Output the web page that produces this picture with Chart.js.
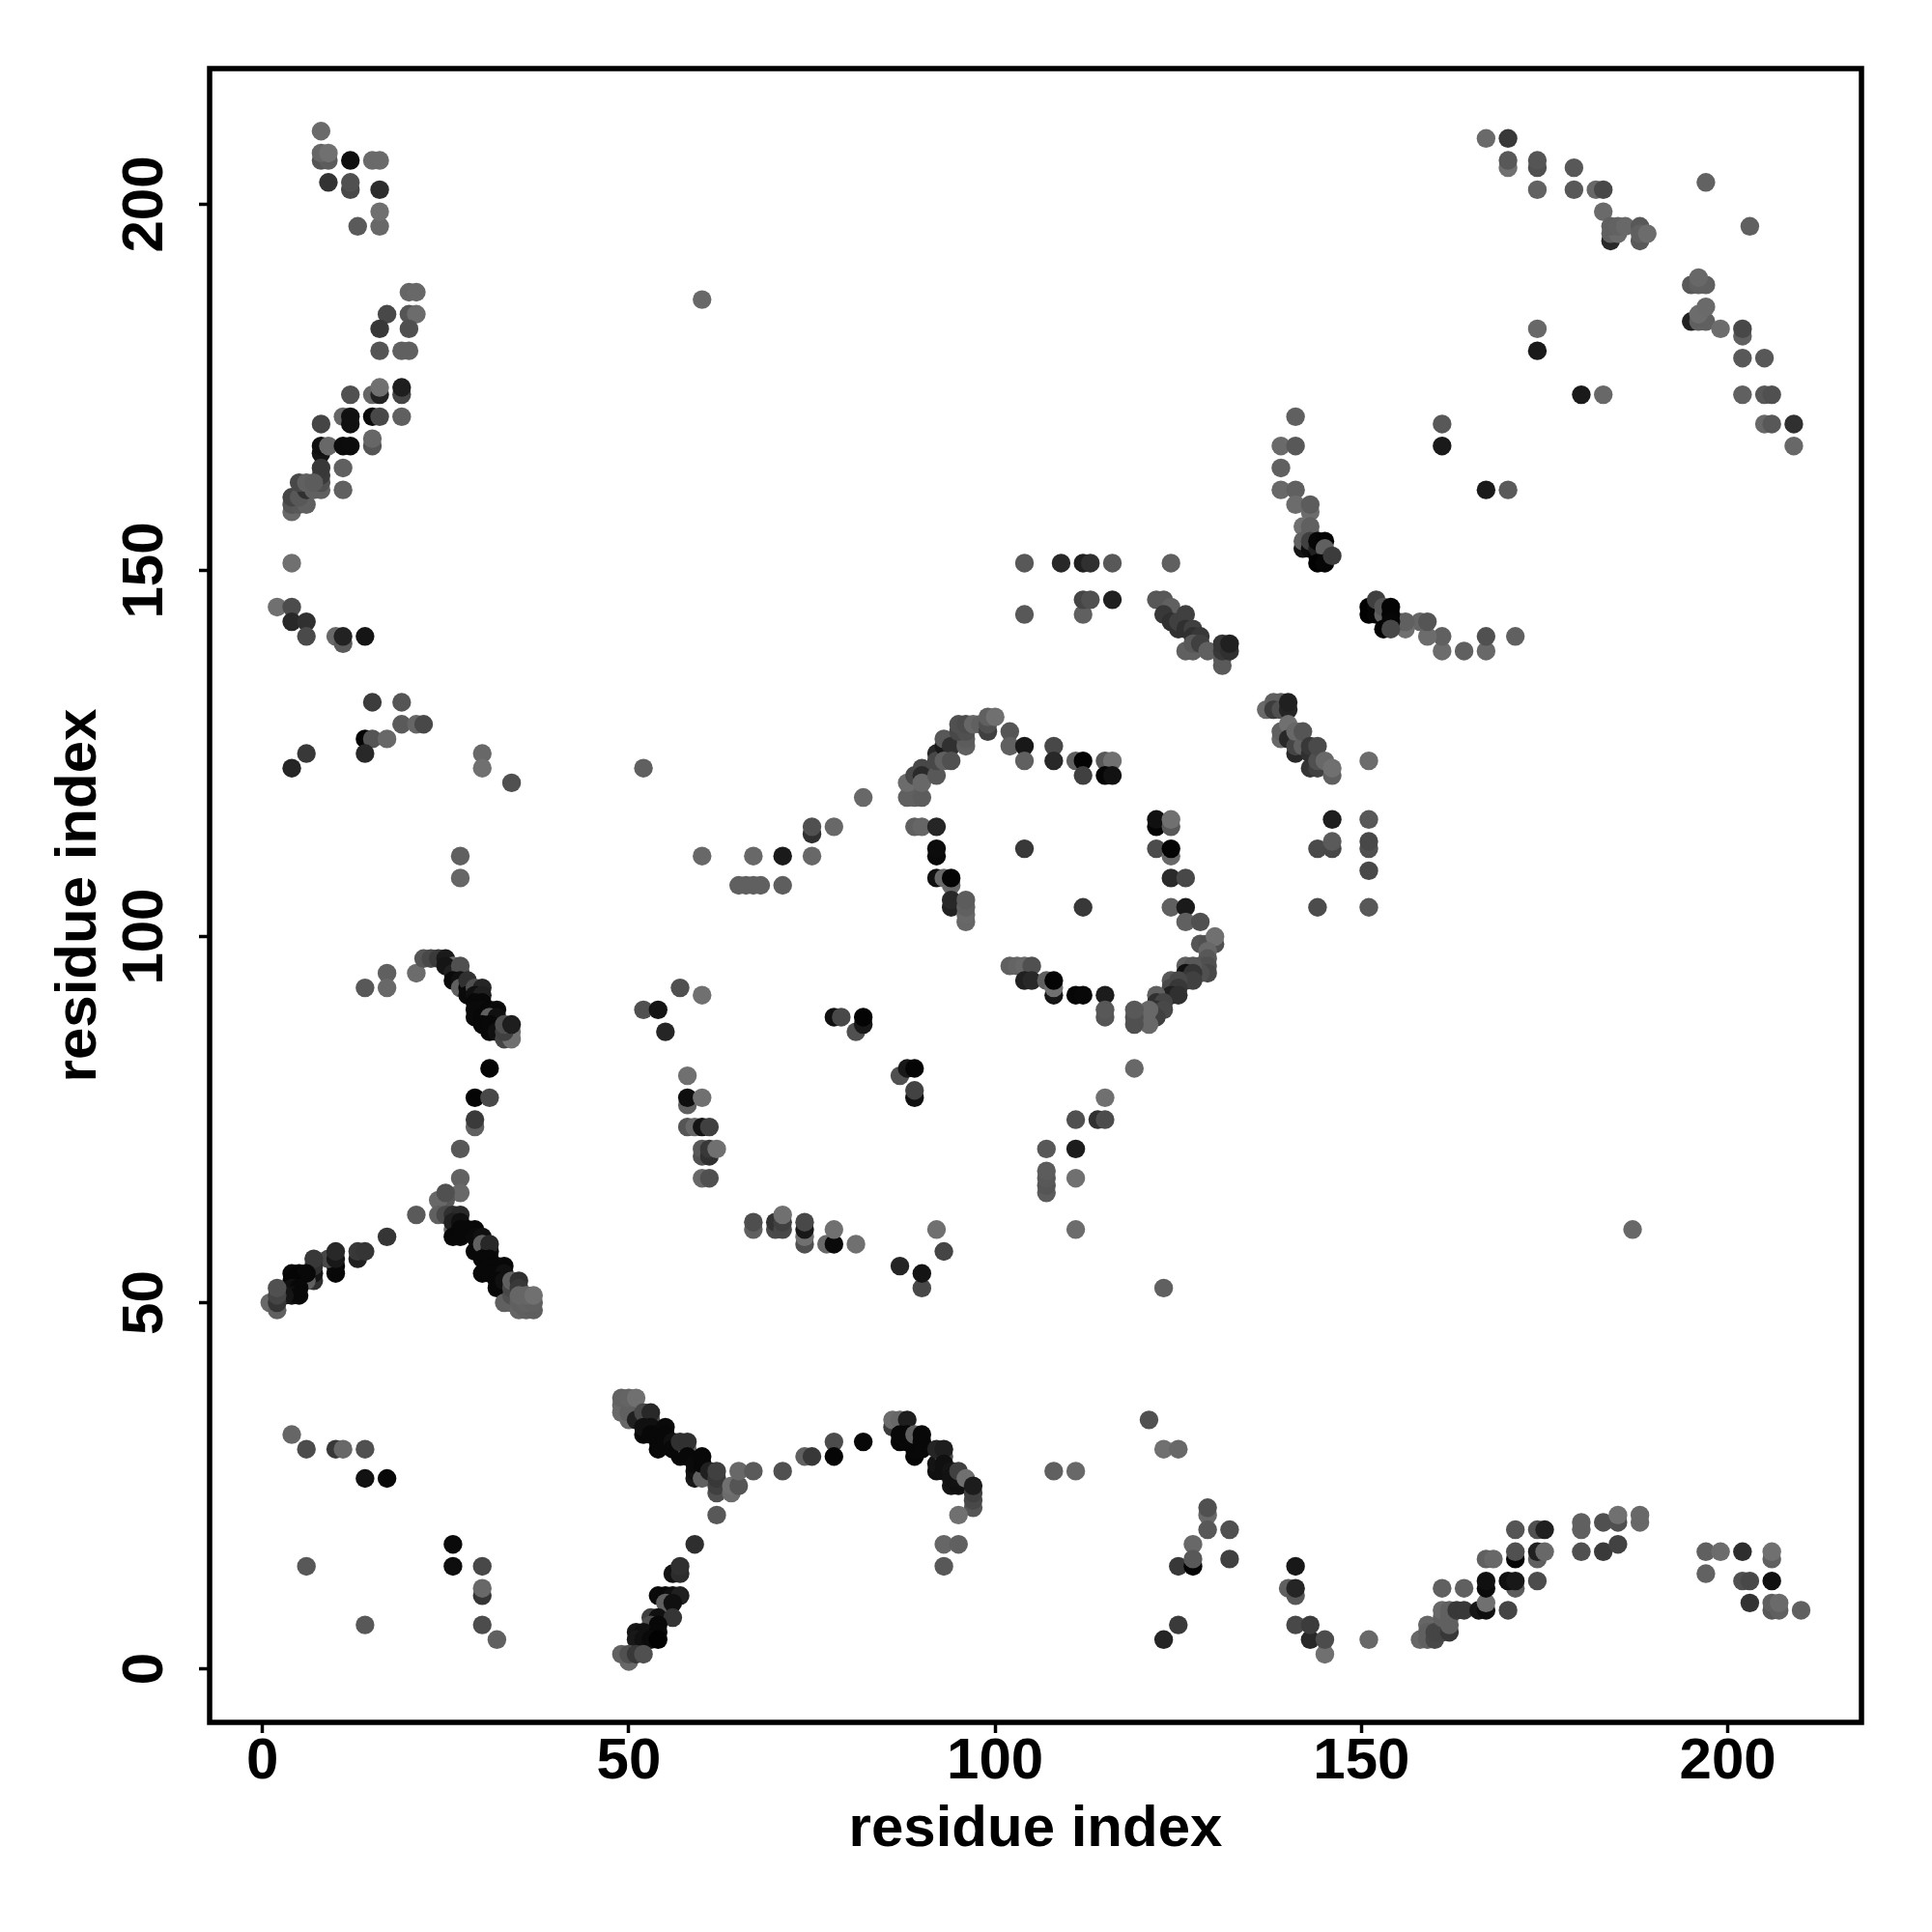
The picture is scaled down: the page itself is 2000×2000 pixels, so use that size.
<!DOCTYPE html>
<html><head><meta charset="utf-8">
<style>html,body{margin:0;padding:0;background:#fff}canvas{display:block}</style>
<script src="https://cdn.jsdelivr.net/npm/chart.js@4"></script>
</head><body><canvas id="c" width="2000" height="2000"></canvas>
<script>
// each contact: [residue i, residue j, grey level]
const axisTicks=[0,50,100,150,200];
const axisTitle="residue index";
const topLeftContacts=[[8,210,0x6a],[8,206,0x55],[9,206,0x5c],[8,207,0x66],[9,207,0x70],[12,206,0x10],[15,206,0x6a],[16,206,0x6a],[9,203,0x33],[12,202,0x48],[12,203,0x50],[16,202,0x2d],[16,197,0x68],[16,199,0x70],[13,197,0x5a],
[20,188,0x66],[21,188,0x68],[17,185,0x48],[20,185,0x55],[21,185,0x6c],[16,183,0x38],[20,183,0x50],[16,180,0x55],[19,180,0x60],[20,180,0x60],[12,174,0x50],[15,174,0x66],[16,174,0x22],[16,175,0x70],[19,174,0x45],[19,175,0x1e],[19,171,0x60],[15,171,0x0a],[16,171,0x48],[11,171,0x66],[12,170,0x10],[12,171,0x10],[8,170,0x45],
[8,166,0x15],[8,167,0x10],[9,167,0x68],[11,167,0x0c],[12,167,0x0c],[15,167,0x55],[15,168,0x66],[11,164,0x60],[11,161,0x60],
[4,158,0x68],[4,159,0x55],[5,159,0x58],[4,160,0x45],[6,159,0x60],[5,160,0x58],[6,161,0x30],[5,162,0x48],[7,161,0x60],[6,162,0x60],[8,161,0x60],[8,162,0x50],[8,163,0x3a],[8,164,0x38],[7,162,0x5c],
[4,151,0x70],[2,145,0x70],[4,145,0x4c],[4,143,0x28],[6,143,0x30],[6,141,0x4a],[10,141,0x68],[11,140,0x5a],[11,141,0x22],[14,141,0x15]];
const leftMidContacts=[[15,132,0x3c],[19,132,0x55],[19,129,0x5a],[21,129,0x66],[22,129,0x48],[14,127,0x05],[15,127,0x55],[17,127,0x68],[14,125,0x28],[6,125,0x38],[4,123,0x25],[30,125,0x68],[30,123,0x70],[34,121,0x50],[27,111,0x60],[27,108,0x66],
[14,93,0x58],[17,95,0x60],[17,93,0x68],[21,95,0x6c],[22,97,0x55],[23,97,0x48],[24,97,0x3a],[25,97,0x1a]];
const upperBandContacts=[[26,96,0x6c],[25,96,0x15],[26,95,0x20],[27,95,0x35],[27,96,0x50],[26,94,0x0a],[27,94,0x10],[27,93,0x60],[28,93,0x08],[28,94,0x30],[28,92,0x0a],[29,93,0x50],[30,93,0x25],[29,92,0x10],[30,92,0x20],[30,91,0x08],[29,91,0x08],[29,90,0x0a],[30,90,0x0a],[31,90,0x08],[32,90,0x0a],[29,89,0x0a],[30,89,0x08],[31,89,0x60],[32,89,0x10],[30,88,0x08],[31,88,0x08],[31,87,0x08],[32,87,0x10],[33,86,0x45],[34,86,0x70],[34,87,0x70],[33,87,0x40],[33,88,0x50],[34,88,0x1e]];
const midStemContacts=[[31,82,0x05],[29,78,0x05],[31,78,0x48],[29,74,0x60],[29,75,0x3a],[27,71,0x58],[27,67,0x62],[27,65,0x68],[25,64,0x58],[24,64,0x68],[25,65,0x50],[21,62,0x5a],[24,62,0x60],[25,62,0x4a],[26,62,0x30],[27,62,0x2a]];
const lowerBandContacts=[[26,60,0x68],[26,61,0x20],[27,61,0x10],[26,59,0x08],[27,59,0x08],[27,60,0x08],[28,60,0x08],[29,60,0x08],[29,59,0x0a],[30,59,0x10],[29,57,0x08],[30,57,0x08],[30,58,0x60],[31,57,0x10],[31,58,0x28],[30,56,0x08],[31,56,0x08],[31,55,0x08],[32,55,0x08],[33,55,0x08],[30,54,0x08],[31,54,0x08],[32,54,0x08],[33,54,0x10],[32,53,0x08],[32,52,0x08],[33,53,0x10],[33,50,0x60],[34,50,0x60],[34,51,0x50],[34,52,0x48],[34,53,0x60],[35,53,0x30],[35,52,0x38],[35,49,0x66],[36,49,0x60],[37,49,0x5e],[35,50,0x60],[36,50,0x62],[37,50,0x60],[35,51,0x66],[36,51,0x66],[37,51,0x70]];
const leftArmContacts=[[17,59,0x35],[13,56,0x20],[13,57,0x38],[14,57,0x35],[10,54,0x08],[10,55,0x08],[9,56,0x48],[10,56,0x18],[10,57,0x28],[7,53,0x30],[7,54,0x15],[7,55,0x30],[7,56,0x38],[6,53,0x60],[4,54,0x08],[5,54,0x05],[6,54,0x08],[4,53,0x05],[4,52,0x10],[5,52,0x08],[4,51,0x10],[5,51,0x08],[3,51,0x15],[1,50,0x68],[2,49,0x60],[2,50,0x35],[2,51,0x45],[2,52,0x50]];
const bottomLeftContacts=[[4,32,0x66],[6,30,0x4c],[10,30,0x38],[11,30,0x68],[14,30,0x50],[14,26,0x12],[17,26,0x08],[26,17,0x0a],[26,14,0x0e],[30,14,0x48],[30,10,0x35],[30,11,0x68],[6,14,0x58],[14,6,0x58],[30,6,0x4c],[32,4,0x60]];
const centreLeftContacts=[[57,93,0x50],[60,92,0x70],[52,90,0x50],[54,90,0x14],[55,87,0x25],[58,81,0x70],[58,77,0x60],[58,78,0x0e],[60,78,0x70],[58,74,0x55],[59,74,0x68],[60,74,0x14],[61,74,0x40],[60,70,0x50],[60,71,0x58],[61,70,0x30],[61,71,0x38],[62,71,0x70],[60,67,0x68],[61,67,0x50],
[67,60,0x60],[67,61,0x4e],[70,60,0x4a],[70,61,0x33],[71,60,0x48],[71,61,0x40],[71,62,0x70],[74,58,0x50],[74,59,0x70],[74,60,0x18],[74,61,0x48],[77,58,0x68],[78,58,0x0a],[78,60,0x70],[81,58,0x70],[92,60,0x70],[93,57,0x45],[87,55,0x25],[90,52,0x48],[90,54,0x14],
[78,89,0x10],[79,89,0x48],[81,87,0x50],[82,88,0x18],[82,89,0x04],[87,81,0x50],[88,82,0x18],[89,82,0x05],[89,78,0x10],[89,79,0x42]];
const ringContacts=[[82,119,0x68],[88,119,0x60],[89,119,0x60],[90,119,0x5c],[88,121,0x6c],[89,122,0x48],[90,123,0x48],[90,122,0x2a],[90,121,0x68],[92,122,0x58],[92,125,0x28],[92,124,0x48],[93,126,0x18],[93,127,0x58],[94,126,0x30],[93,124,0x60],[94,124,0x50],[96,126,0x60],[96,127,0x5c],[95,128,0x48],[96,128,0x50],[95,129,0x50],[96,129,0x4c],[97,129,0x66],[98,129,0x60],[99,128,0x40],[99,129,0x50],[99,130,0x60],[100,130,0x70],[102,128,0x55],[102,126,0x60],[104,126,0x18],[104,124,0x60],[108,126,0x48],[108,124,0x28],[111,124,0x60],[112,124,0x04],[112,122,0x40],[115,124,0x58],[116,124,0x70],[115,122,0x06],[116,122,0x12],
[89,115,0x60],[90,115,0x66],[92,115,0x25],[92,111,0x0a],[92,112,0x0c],[92,108,0x10],[93,108,0x68],[94,107,0x68],[94,108,0x04],[94,104,0x22],[94,105,0x28],[96,102,0x66],[96,103,0x68],[96,104,0x60],[96,105,0x5c],[104,112,0x38],[112,104,0x38],
[122,115,0x05],[122,116,0x10],[124,115,0x58],[124,116,0x70],[122,112,0x4c],[124,111,0x68],[124,112,0x04],[124,108,0x2a],[126,108,0x48],[124,104,0x60],[126,104,0x1a],[126,102,0x60],[128,102,0x50],
[128,99,0x55],[129,99,0x50],[130,99,0x50],[130,100,0x70],[129,98,0x68],[129,97,0x58],[128,96,0x55],[129,96,0x50],[129,95,0x48],[128,95,0x50],[126,96,0x60],[127,96,0x58],[126,95,0x10],[127,95,0x35],[126,94,0x38],[127,94,0x40],[124,94,0x58],[125,94,0x48],[124,93,0x48],[125,93,0x38],[124,92,0x20],[125,92,0x30],[122,92,0x60],[122,91,0x30],[123,91,0x45],[122,90,0x30],[123,90,0x48],[122,89,0x40],[121,88,0x68],[121,90,0x68],[119,88,0x50],[119,89,0x50],[119,90,0x58],
[102,96,0x60],[103,96,0x64],[104,96,0x68],[105,96,0x50],[104,94,0x20],[105,94,0x28],[107,94,0x60],[108,92,0x15],[108,93,0x70],[108,94,0x04],[111,92,0x06],[112,92,0x08],[115,92,0x1c],[115,89,0x55],[115,90,0x58],[119,82,0x68]];
const stalkContacts=[[115,78,0x70],[111,75,0x50],[114,75,0x30],[115,75,0x4c],[107,71,0x58],[111,71,0x1c],[107,65,0x5c],[107,66,0x55],[107,67,0x58],[107,68,0x5c],[111,67,0x70],[111,60,0x6c],[123,52,0x60],[187,60,0x68],[60,187,0x68]];
const lowBandContacts=[[49,35,0x68],[49,36,0x68],[49,37,0x62],[50,34,0x68],[50,35,0x60],[50,37,0x64],[51,37,0x70],[51,34,0x20],[52,35,0x48],[53,34,0x50],[53,35,0x28],[52,32,0x08],[52,33,0x10],[53,33,0x10],[53,32,0x08],[54,30,0x08],[54,31,0x08],[54,32,0x08],[55,33,0x0a],[55,32,0x08],[55,31,0x08],[56,31,0x10],[56,30,0x08],[57,29,0x08],[57,30,0x08],[58,30,0x68],[57,31,0x30],[58,31,0x30],[58,29,0x08],[59,26,0x18],[59,27,0x10],[59,28,0x0a],[60,26,0x60],[60,28,0x08],[60,29,0x08],[61,27,0x20],[62,24,0x50],[62,25,0x40],[62,26,0x38],[62,27,0x40],[64,24,0x6c],[64,25,0x70],[65,25,0x55],[65,27,0x68],[67,27,0x5a],[71,27,0x50],[74,29,0x60],[75,29,0x38],[78,31,0x4c],[78,29,0x06],[82,31,0x08],
[62,21,0x58],[59,17,0x2e],[56,13,0x12],[57,13,0x2c],[57,14,0x30],[54,10,0x0a],[55,10,0x0a],[56,10,0x10],[57,10,0x20],[55,9,0x60],[56,9,0x10],[53,7,0x40],[54,7,0x10],[56,7,0x35],[53,6,0x50],[54,6,0x08],[51,5,0x15],[52,5,0x10],[54,5,0x08],[51,4,0x18],[52,4,0x10],[53,4,0x0a],[54,4,0x02],[50,1,0x68],[49,2,0x62],[50,2,0x50],[51,2,0x38],[52,2,0x50]];
const rightBandContacts=[[86,33,0x3c],[86,34,0x6c],[87,34,0x68],[88,34,0x1e],[87,31,0x06],[87,32,0x08],[88,31,0x08],[88,32,0x08],[89,29,0x06],[89,30,0x08],[89,31,0x08],[89,32,0x60],[90,30,0x08],[90,31,0x08],[90,32,0x08],[92,27,0x10],[92,28,0x14],[93,29,0x50],[92,30,0x25],[93,30,0x1e],[93,27,0x10],[93,28,0x10],[94,25,0x14],[94,27,0x14],[95,25,0x10],[94,26,0x12],[95,26,0x12],[95,27,0x40],[96,26,0x70],[97,22,0x55],[97,23,0x48],[97,24,0x40],[97,25,0x1c],[95,21,0x70],[93,17,0x66],[95,17,0x60],[93,14,0x58]];
const bottomMidContacts=[[121,34,0x50],[123,30,0x70],[125,30,0x68],[108,27,0x60],[111,27,0x68],[129,21,0x68],[129,22,0x50],[129,19,0x58],[132,19,0x50],[127,17,0x68],[125,14,0x38],[127,14,0x04],[127,15,0x58],[132,15,0x40],[141,14,0x18],[140,11,0x60],[141,10,0x58],[141,11,0x25],[125,6,0x3a],[123,4,0x25],[141,6,0x48],[143,4,0x28],[143,6,0x3c],[145,2,0x70],[145,4,0x4c],[151,4,0x68]];
const bottomRightContacts=[[158,4,0x68],[159,4,0x60],[159,6,0x66],[159,5,0x60],[160,4,0x48],[160,5,0x45],[161,5,0x45],[162,5,0x38],[161,7,0x60],[161,8,0x68],[162,6,0x60],[162,7,0x60],[162,8,0x60],[163,8,0x38],[164,8,0x38],[161,11,0x60],[164,11,0x60],[166,8,0x18],[167,8,0x10],[167,9,0x70],[167,11,0x0a],[167,12,0x10],[167,15,0x60],[168,15,0x68],[170,8,0x45],[171,11,0x5c],[170,12,0x10],[171,12,0x18],[171,15,0x06],[171,16,0x50],[171,19,0x55],[174,12,0x4c],[174,15,0x60],[174,16,0x20],[175,16,0x68],[174,19,0x50],[175,19,0x20],
[180,19,0x60],[180,20,0x60],[180,16,0x50],[183,16,0x3a],[183,20,0x50],[185,20,0x50],[185,21,0x70],[185,17,0x42],[188,20,0x68],[188,21,0x68],[197,16,0x60],[199,16,0x6c],[202,16,0x2e],[206,15,0x60],[206,16,0x70],[197,13,0x62],[202,12,0x50],[203,12,0x48],[206,12,0x10],[203,9,0x32],[206,8,0x58],[207,8,0x60],[206,9,0x60],[207,9,0x6a],[210,8,0x60]];
const upperMidContacts=[[104,151,0x58],[104,144,0x58],[109,151,0x28],[112,151,0x20],[113,151,0x30],[116,151,0x58],[112,144,0x60],[112,146,0x45],[113,146,0x50],[116,146,0x20],[124,151,0x60],
[122,146,0x58],[123,146,0x58],[124,145,0x60],[123,144,0x38],[124,143,0x30],[125,142,0x30],[125,143,0x40],[126,144,0x40],[126,142,0x30],[127,142,0x40],[127,141,0x30],[128,141,0x38],[126,139,0x60],[127,139,0x60],[127,140,0x58],[128,140,0x40],[129,139,0x60],[131,137,0x5a],[131,138,0x5a],[131,139,0x38],[131,140,0x35],[132,139,0x30],[132,140,0x20]];
const rightMidContacts=[[141,171,0x60],[139,167,0x6a],[141,167,0x58],[139,164,0x60],[139,161,0x68],[141,161,0x60],[141,159,0x6c],[143,158,0x6c],[143,159,0x5c],[142,156,0x70],[143,155,0x60],[143,156,0x60],[142,153,0x15],[142,154,0x60],[143,153,0x0c],[143,154,0x40],[144,152,0x06],[144,153,0x20],[144,154,0x06],[145,154,0x04],[145,153,0x60],[144,151,0x02],[145,151,0x06],[146,152,0x3c],
[161,170,0x58],[161,167,0x1a],[167,161,0x1a],[170,161,0x5a],[171,141,0x60],[167,139,0x68],[167,141,0x50],[164,139,0x60],[161,139,0x6c],[161,141,0x60],[159,141,0x6c],[158,143,0x66],[159,143,0x55],[156,142,0x70],[155,143,0x64],[156,143,0x60],
[151,144,0x02],[151,145,0x02],[152,144,0x05],[152,145,0x05],[152,146,0x40],[153,144,0x60],[153,145,0x55],[153,142,0x04],[154,144,0x06],[154,145,0x04],[154,143,0x06],[154,142,0x48],
[137,131,0x6a],[138,132,0x60],[139,132,0x60],[138,131,0x3c],[139,131,0x50],[140,131,0x25],[140,132,0x20],[139,127,0x68],[139,128,0x60],[140,129,0x70],[140,127,0x28],[141,125,0x28],[141,126,0x45],[141,128,0x68],[142,126,0x60],[142,128,0x55],[143,123,0x35],[143,125,0x30],[143,126,0x38],[144,123,0x40],[144,124,0x50],[144,126,0x4a],[145,124,0x68],[146,122,0x60],[146,123,0x70],[151,124,0x6c],
[146,116,0x1e],[151,116,0x58],[144,112,0x4a],[146,112,0x48],[146,113,0x5a],[151,112,0x50],[151,113,0x48],[151,109,0x48],[151,104,0x58],[144,104,0x4c]];
const centreTopContacts=[[78,115,0x68],[75,114,0x30],[75,115,0x50],[75,111,0x68],[71,111,0x1a],[71,107,0x5e],[67,111,0x68],[60,111,0x68],[52,123,0x60],[65,107,0x60],[66,107,0x60],[67,107,0x60],[68,107,0x60]];
const topRightContacts=[[167,209,0x6a],[170,209,0x38],[170,205,0x70],[170,206,0x58],[174,205,0x50],[174,206,0x55],[174,202,0x62],[179,205,0x58],[179,202,0x58],[182,202,0x68],[183,202,0x48],[183,199,0x6a],[184,195,0x28],[184,196,0x60],[185,196,0x6a],[184,197,0x60],[185,197,0x62],[186,197,0x68],[188,195,0x58],[188,197,0x58],[188,196,0x60],[189,196,0x6c],[197,203,0x62],[203,197,0x60],
[195,189,0x58],[197,189,0x60],[196,189,0x60],[196,190,0x68],[195,184,0x22],[196,184,0x60],[197,184,0x60],[196,185,0x6c],[197,186,0x6a],[199,183,0x6c],[202,182,0x60],[202,183,0x48],[202,179,0x58],[205,179,0x58],[174,183,0x68],[174,180,0x1a],[180,174,0x1a],[183,174,0x68],[202,174,0x60],[205,174,0x58],[206,174,0x50],[205,170,0x68],[206,170,0x58],[209,170,0x30],[209,167,0x68]];

const contacts=[...topLeftContacts,...leftMidContacts,...upperBandContacts,...midStemContacts,...lowerBandContacts,...leftArmContacts,...bottomLeftContacts,...centreLeftContacts,...ringContacts,...stalkContacts,...lowBandContacts,...rightBandContacts,...bottomMidContacts,...bottomRightContacts,...upperMidContacts,...rightMidContacts,...centreTopContacts,...topRightContacts];
const grey=g=>`rgb(${g},${g},${g})`;
const FONT='"Liberation Sans", Arial, sans-serif';
const frame={id:'frame',afterDatasetsDraw(ch){const a=ch.chartArea,c=ch.ctx;c.save();c.strokeStyle='#000';c.lineWidth=5.5;c.strokeRect(a.left,a.top,a.right-a.left,a.bottom-a.top);c.restore();}};
const tickScale=(extra)=>Object.assign({type:'linear',
  afterBuildTicks(s){s.ticks=axisTicks.map(v=>({value:v}));},
  grid:{display:true,drawOnChartArea:false,drawTicks:true,tickLength:11,tickWidth:3.5,tickColor:'#000'},
  border:{display:false}},extra);
new Chart(document.getElementById('c'),{
  type:'scatter',
  data:{datasets:[{data:contacts.map(p=>({x:p[0],y:p[1]})),
    pointBackgroundColor:contacts.map(p=>grey(p[2])),pointBorderWidth:0,pointRadius:9.7,pointHoverRadius:9.7,clip:false}]},
  options:{responsive:false,animation:false,devicePixelRatio:1,
    layout:{padding:{top:71,right:73,left:0,bottom:0}},
    plugins:{legend:{display:false},tooltip:{enabled:false},title:{display:false}},
    scales:{
      x:tickScale({min:-7.21,max:218.24,position:'bottom',
        afterFit(s){s.height=217;},
        ticks:{color:'#000',font:{family:FONT,size:60,weight:'bold'},padding:-6,maxRotation:0,minRotation:0,autoSkip:false,callback:v=>String(v)},
        title:{display:true,text:axisTitle,color:'#000',font:{family:FONT,size:60,weight:'bold'},padding:{top:0,bottom:70}}}),
      y:tickScale({min:-7.31,max:218.54,position:'left',
        afterFit(s){s.width=217;},
        ticks:{color:'#000',font:{family:FONT,size:60,weight:'bold'},padding:4,minRotation:90,maxRotation:90,crossAlign:'center',autoSkip:false,callback:v=>String(v)},
        title:{display:true,text:axisTitle,color:'#000',font:{family:FONT,size:60,weight:'bold'},padding:{top:46,bottom:0}}})
    }},
  plugins:[frame]});
</script></body></html>
